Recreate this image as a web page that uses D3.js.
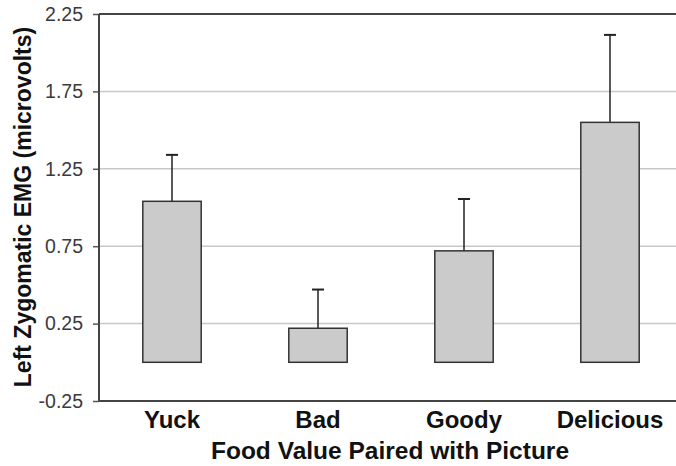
<!DOCTYPE html>
<html>
<head>
<meta charset="utf-8">
<script src="https://cdn.jsdelivr.net/npm/d3@7"></script>
<style>
  body { margin: 0; background: #fff; }
  svg { font-family: "Liberation Sans", Arial, sans-serif; }
</style>
</head>
<body>
<svg id="chart" width="676" height="466"></svg>
<script>
const categories = ["Yuck", "Bad", "Goody", "Delicious"];
const means = [1.04, 0.22, 0.72, 1.55];
const errors = [0.30, 0.25, 0.335, 0.565];
const yTicks = [-0.25, 0.25, 0.75, 1.25, 1.75, 2.25];

const margin = { top: 14, left: 99 };
const height = 387;

const svg = d3.select("#chart");
const g = svg.append("g")
  .attr("transform", "translate(" + margin.left + "," + margin.top + ")");

// band scale, plot continues a bit past the window edge
const x = d3.scaleBand()
  .domain(categories)
  .range([0, 584])
  .padding(0);

const y = d3.scaleLinear()
  .domain([-0.25, 2.25])
  .range([height, 0]);

// gridlines
g.selectAll(".grid")
  .data(yTicks.slice(1, -1))
  .enter()
  .append("line")
  .attr("x1", 0)
  .attr("x2", 600)
  .attr("y1", d => y(d))
  .attr("y2", d => y(d))
  .attr("stroke", "#c8c8c8")
  .attr("stroke-width", 1.5);

// Y axis
const yAxis = g.append("g")
  .call(d3.axisLeft(y).tickValues(yTicks).tickSize(6).tickPadding(10)
    .tickFormat(d => d.toFixed(2)));
yAxis.select(".domain").remove();
yAxis.selectAll(".tick line").attr("stroke", "#555").attr("stroke-width", 1.5);
yAxis.selectAll(".tick text")
  .attr("fill", "#3a3a3a")
  .style("font-size", "19.5px");

// frame lines
g.append("line").attr("x1", 0).attr("x2", 0).attr("y1", 0).attr("y2", height)
  .attr("stroke", "#444").attr("stroke-width", 2);
g.append("line").attr("x1", 0).attr("x2", 600).attr("y1", 0).attr("y2", 0)
  .attr("stroke", "#444").attr("stroke-width", 2);
g.append("line").attr("x1", 0).attr("x2", 600).attr("y1", height).attr("y2", height)
  .attr("stroke", "#444").attr("stroke-width", 2);

const bw = x.bandwidth() * 0.4;
const data = categories.map((c, i) => ({ c: c, m: means[i], e: errors[i] }));

// error bars (upper only)
g.selectAll(".err")
  .data(data)
  .enter()
  .append("line")
  .attr("x1", d => x(d.c) + x.bandwidth() / 2)
  .attr("x2", d => x(d.c) + x.bandwidth() / 2)
  .attr("y1", d => y(d.m))
  .attr("y2", d => y(d.m + d.e))
  .attr("stroke", "#222")
  .attr("stroke-width", 1.5);

g.selectAll(".cap")
  .data(data)
  .enter()
  .append("line")
  .attr("x1", d => x(d.c) + x.bandwidth() / 2 - 6)
  .attr("x2", d => x(d.c) + x.bandwidth() / 2 + 6)
  .attr("y1", d => y(d.m + d.e))
  .attr("y2", d => y(d.m + d.e))
  .attr("stroke", "#222")
  .attr("stroke-width", 2);

// bars
g.selectAll(".bar")
  .data(data)
  .enter()
  .append("rect")
  .attr("x", d => x(d.c) + (x.bandwidth() - bw) / 2)
  .attr("y", d => y(d.m))
  .attr("width", bw)
  .attr("height", d => y(0) - y(d.m))
  .attr("fill", "#cbcbcb")
  .attr("stroke", "#333")
  .attr("stroke-width", 1.5);

// category labels
g.selectAll(".cat")
  .data(categories)
  .enter()
  .append("text")
  .attr("x", d => x(d) + x.bandwidth() / 2)
  .attr("y", height + 27)
  .attr("text-anchor", "middle")
  .style("font-size", "24px")
  .style("font-weight", "bold")
  .attr("fill", "#111")
  .text(d => d);

// axis titles
svg.append("text")
  .attr("x", 390)
  .attr("y", 459)
  .attr("text-anchor", "middle")
  .style("font-size", "24.5px")
  .style("font-weight", "bold")
  .attr("fill", "#111")
  .text("Food Value Paired with Picture");

svg.append("text")
  .attr("transform", "translate(31,207) rotate(-90)")
  .attr("text-anchor", "middle")
  .style("font-size", "23px")
  .style("font-weight", "bold")
  .attr("fill", "#111")
  .text("Left Zygomatic EMG (microvolts)");
</script>
</body>
</html>
